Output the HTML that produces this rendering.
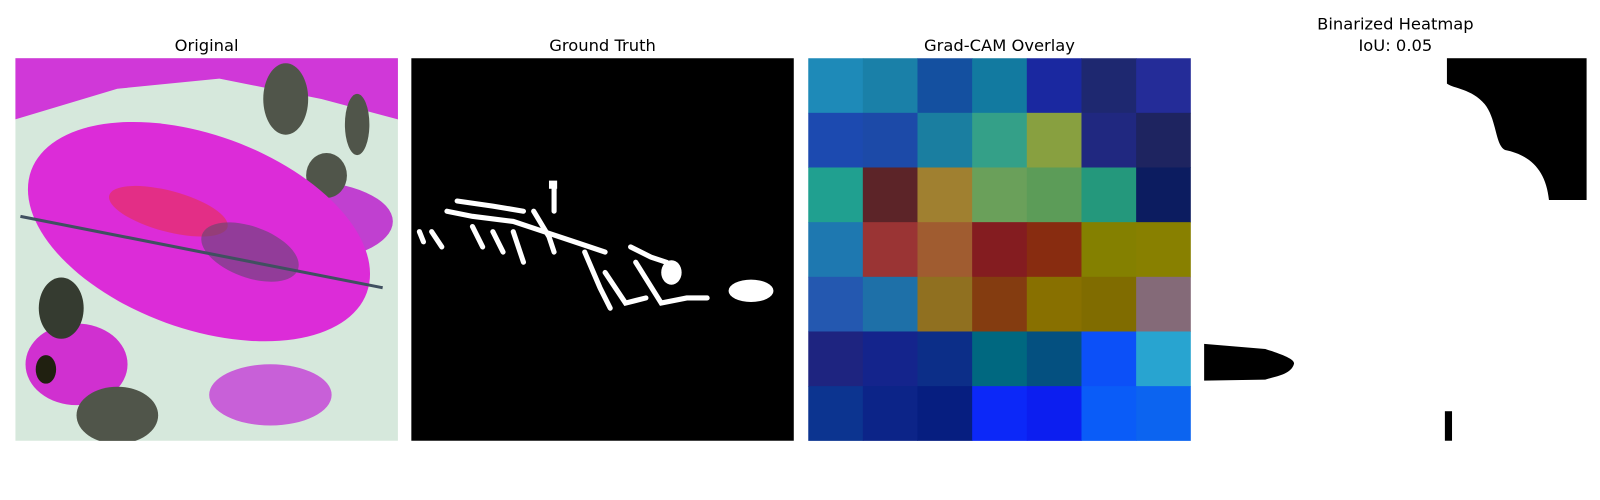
<!DOCTYPE html>
<html><head><meta charset="utf-8"><style>
body{margin:0;width:1600px;height:500px;background:#fff;overflow:hidden;font-family:"DejaVu Sans","Liberation Sans",sans-serif}
#wrap{position:absolute;left:0;top:0;width:1568px;height:490px;transform:scale(1.0204);transform-origin:0 0}
.t{position:absolute;font-size:16px;color:#000;text-align:center;width:375px;line-height:21px}
svg{position:absolute}
</style></head><body>
<div id="wrap">
<div class="t" style="left:15px;top:34px">Original</div>
<div class="t" style="left:403px;top:34px">Ground Truth</div>
<div class="t" style="left:792px;top:34px">Grad-CAM Overlay</div>
<div class="t" style="left:1180px;top:13px">Binarized Heatmap<br>IoU: 0.05</div>

<svg style="left:15px;top:57px" width="375" height="375">
<rect width="375" height="375" fill="#d6e8dc"/>
<path d="M0,0 L375,0 L375,60 L300,40 L200,20 L100,30 L0,60Z" fill="#d038d8"/>
<ellipse cx="280" cy="160" rx="90" ry="40" fill="#c040d0"/>
<ellipse cx="60" cy="300" rx="50" ry="40" fill="#d030d0"/>
<ellipse cx="250" cy="330" rx="60" ry="30" fill="#c860d8"/>
<ellipse cx="45" cy="245" rx="22" ry="30" fill="#353b30"/>
<ellipse cx="100" cy="350" rx="40" ry="28" fill="#50554a"/>
<ellipse cx="265" cy="40" rx="22" ry="35" fill="#50554a"/>
<ellipse cx="335" cy="65" rx="12" ry="30" fill="#50554a"/>
<ellipse cx="305" cy="115" rx="20" ry="22" fill="#50554a"/>
<ellipse cx="180" cy="170" rx="175" ry="95" transform="rotate(20 180 170)" fill="#dc2cd8"/>
<ellipse cx="150" cy="150" rx="60" ry="20" transform="rotate(15 150 150)" fill="#e83050" opacity=".6"/>
<ellipse cx="230" cy="190" rx="50" ry="25" transform="rotate(20 230 190)" fill="#604870" opacity=".6"/>
<path d="M5,155 L360,225" stroke="#405060" stroke-width="3"/>
<ellipse cx="30" cy="305" rx="10" ry="14" fill="#202010"/>
</svg>

<svg style="left:403px;top:57px" width="375" height="375">
<rect width="375" height="375" fill="#000"/>
<g stroke="#fff" stroke-width="5" fill="none" stroke-linecap="round">
<path d="M35,150 L60,155 L100,160 L130,170 L160,180 L190,190"/>
<path d="M45,140 L80,145 L110,150"/>
<path d="M120,150 L135,175 L140,190"/>
<path d="M170,190 L185,225 L195,245"/>
<path d="M190,210 L210,240 L230,235"/>
<path d="M215,185 L235,195 L250,200 L255,215"/>
<path d="M220,200 L245,240 L270,235 L290,235"/>
<path d="M8,170 L12,180 M20,170 L30,185"/>
<path d="M60,165 L70,185 M80,170 L90,190 M100,170 L110,200"/>
<path d="M140,125 L140,150"/>
</g>
<ellipse cx="333" cy="228" rx="22" ry="11" fill="#fff"/>
<ellipse cx="255" cy="210" rx="10" ry="12" fill="#fff"/>
<rect x="135" y="120" width="8" height="8" fill="#fff"/>
</svg>

<svg id="cam" style="left:792px;top:57px" width="375" height="375"></svg>

<svg style="left:1180px;top:57px" width="375" height="375">
<rect width="375" height="375" fill="#fff"/>
<path d="M238,0 L375,0 L375,139 L338,139 C335,110 320,95 295,90 C285,85 287,60 275,45 C262,30 245,30 238,25Z" fill="#000"/>
<path d="M0,280 L60,285 C75,290 90,295 88,300 C85,310 70,312 60,315 L0,316Z" fill="#000"/>
<rect x="236" y="346" width="7" height="29" fill="#000"/>
</svg>
</div>

<script>
const rows=[0,1,2,3,4,5,6];
const cols=[0,1,2,3,4,5,6];
const cellColors=[
["#1e8ab8","#1a80a8","#1450a0","#127aa0","#1a28a0","#1e2870","#242c98"],
["#1c4ab0","#1c4aa8","#1a7ea0","#34a088","#88a040","#202880","#1e2460"],
["#20a090","#5c2428","#a08030","#6aa05a","#5c9c58","#24987c","#0c1c60"],
["#1e78b0","#9a3434","#a05c30","#841c20","#882c10","#848000","#888000"],
["#2458b0","#1e70a8","#907020","#843c10","#887000","#806c00","#846a78"],
["#1e2480","#14248c","#0c2e88","#006880","#045080","#0c50f8","#28a4d0"],
["#0c3490","#0c2488","#061e80","#0c28f8","#0c1ef0","#0a5cf8","#0c64f0"]];
const svg=document.getElementById('cam');
const W=375,n=cols.length,cw=W/n;
const xs=c=>c*cw, ys=r=>r*(W/rows.length);
rows.forEach(r=>cols.forEach(c=>{
 const el=document.createElementNS('http://www.w3.org/2000/svg','rect');
 el.setAttribute('x',xs(c));el.setAttribute('y',ys(r));
 el.setAttribute('width',cw+0.5);el.setAttribute('height',W/rows.length+0.5);
 el.setAttribute('fill',cellColors[r][c]);
 
 
 svg.appendChild(el);
}));
</script>
</body></html>
